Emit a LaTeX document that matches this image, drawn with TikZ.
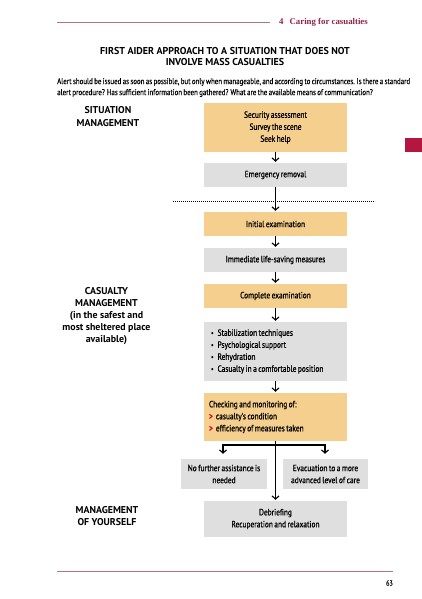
\documentclass[tikz,border=0pt]{standalone}
\usepackage{fontspec}
\setmainfont{PT Sans}
\newfontfamily\condf[FakeStretch=0.82,FakeBold=0.8,WordSpace=0.75]{PT Sans}
\newfontfamily\condl[FakeStretch=0.82,FakeBold=0.3,WordSpace=0.75]{PT Sans}
\newfontfamily\serifh{Liberation Serif}
\usetikzlibrary{arrows.meta,calc}
\definecolor{orangef}{HTML}{F5CF8E}
\definecolor{grayf}{HTML}{DFDFDF}
\definecolor{maroon}{HTML}{8E2449}
\definecolor{pinkline}{HTML}{B7708C}
\definecolor{tabred}{HTML}{B3163F}
\definecolor{gtred}{HTML}{C8102E}
\begin{document}
\begin{tikzpicture}[x=1pt,y=-1pt,
  boxbase/.style={inner sep=0pt, minimum width=143pt, align=center,
    font=\condf\fontsize{9}{12}\selectfont},
  obox/.style={boxbase, fill=orangef},
  gbox/.style={boxbase, fill=grayf},
  sidelabel/.style={align=center, font=\bfseries\fontsize{9.9}{12.2}\selectfont},
  arr/.style={-{Straight Barb[length=3.2pt,width=7pt]}, line width=1.1pt},
  plainline/.style={line width=1.1pt}]
\useasboundingbox (0,0) rectangle (422,599);
\fill[white] (0,0) rectangle (422,599);

% header
\coordinate (hl1) at (57,22);
\coordinate (hl2) at (270,22);
\draw[pinkline, line width=0.6pt] (hl1) -- (hl2);
\node[anchor=west, inner sep=0pt, text=maroon, font=\serifh\bfseries\fontsize{8.8}{10}\selectfont] (head) at (279,22) {4\hspace{6pt}Caring for casualties};

% tab
\fill[tabred] (405,138) rectangle (422,152);

% title
\node[align=center, inner sep=0pt, font=\bfseries\fontsize{10}{11.5}\selectfont] (title) at (225,56.5)
  {FIRST AIDER APPROACH TO A SITUATION THAT DOES NOT\\INVOLVE MASS CASUALTIES};

% alert text
\node[anchor=west, align=left, inner sep=0pt, font=\condl\fontsize{8.4}{11}\selectfont] (alert) at (57,87.5)
  {Alert should be issued as soon as possible, but only when manageable, and according to circumstances. Is there a standard\\alert procedure? Has sufficient information been gathered? What are the available means of communication?};

% side labels
\node[sidelabel] (lsit) at (108,116.5) {SITUATION\\MANAGEMENT};
\node[sidelabel] (lcas) at (106.5,316) {CASUALTY\\MANAGEMENT\\(in the safest and\\most sheltered place\\available)};
\node[sidelabel] (lyou) at (107,516) {MANAGEMENT\\OF YOURSELF};

% boxes
\node[obox, minimum height=49pt] (b1) at (275.5,127.5) {Security assessment\\Survey the scene\\Seek help};
\node[gbox, minimum height=24pt] (b2) at (275.5,175) {Emergency removal};
\node[obox, minimum height=24pt] (b3) at (275.5,224) {Initial examination};
\node[gbox, minimum height=24pt] (b4) at (275.5,260) {Immediate life-saving measures};
\node[obox, minimum height=24pt] (b5) at (275.5,296) {Complete examination};
\node[gbox, minimum height=59pt, align=flush left, text width=129pt] (b6) at (275.5,351.5)
  {\raisebox{0.5pt}{\scriptsize\textbullet}\hspace{4pt}Stabilization techniques\\
   \raisebox{0.5pt}{\scriptsize\textbullet}\hspace{4pt}Psychological support\\
   \raisebox{0.5pt}{\scriptsize\textbullet}\hspace{4pt}Rehydration\\
   \raisebox{0.5pt}{\scriptsize\textbullet}\hspace{4pt}Casualty in a comfortable position};
\node[obox, minimum height=48pt, align=flush left, text width=133pt] (b7) at (275.5,417)
  {Checking and monitoring of:\\
   {\color{gtred}\textbf{>}}\hspace{3pt}casualty's condition\\
   {\color{gtred}\textbf{>}}\hspace{3pt}efficiency of measures taken};
\node[gbox, minimum width=86pt, minimum height=30pt] (b8a) at (224,474) {No further assistance is\\needed};
\node[gbox, minimum width=85pt, minimum height=30pt] (b8b) at (325.5,474) {Evacuation to a more\\advanced level of care};
\node[gbox, minimum height=36pt] (b9) at (275.5,519) {Debriefing\\Recuperation and relaxation};

% dotted separator
\coordinate (d1) at (173,201);
\coordinate (d2) at (375,201);
\draw[line width=0.8pt, dash pattern=on 0.9pt off 1.1pt] (d1) -- (d2);

% connectors
\draw[arr, shorten >=1pt] (b1) -- (b2);
\draw[arr, shorten >=1pt] (b2) -- (b3);
\draw[arr, shorten >=1pt] (b3) -- (b4);
\draw[arr, shorten >=1pt] (b4) -- (b5);
\draw[arr, shorten >=1pt] (b5) -- (b6);
\draw[arr, shorten >=1pt] (b6) -- (b7);
\draw[arr, shorten >=1pt] (b7) -- (b9);
\coordinate (bl) at (223,445);
\coordinate (br) at (325,445);
\draw[plainline] ($(bl)+(-0.55,0)$) -- ($(br)+(0.55,0)$);
\draw[arr, shorten >=5pt] (bl) -- (bl |- b8a.north);
\draw[arr, shorten >=5pt] (br) -- (br |- b8b.north);

% footer
\coordinate (fl1) at (57,571);
\coordinate (fl2) at (393,571);
\draw[pinkline, line width=0.6pt] (fl1) -- (fl2);
\node[anchor=east, inner sep=0pt, font=\condl\fontsize{7.5}{9}\selectfont] (pnum) at (393,583) {63};
\end{tikzpicture}
\end{document}
